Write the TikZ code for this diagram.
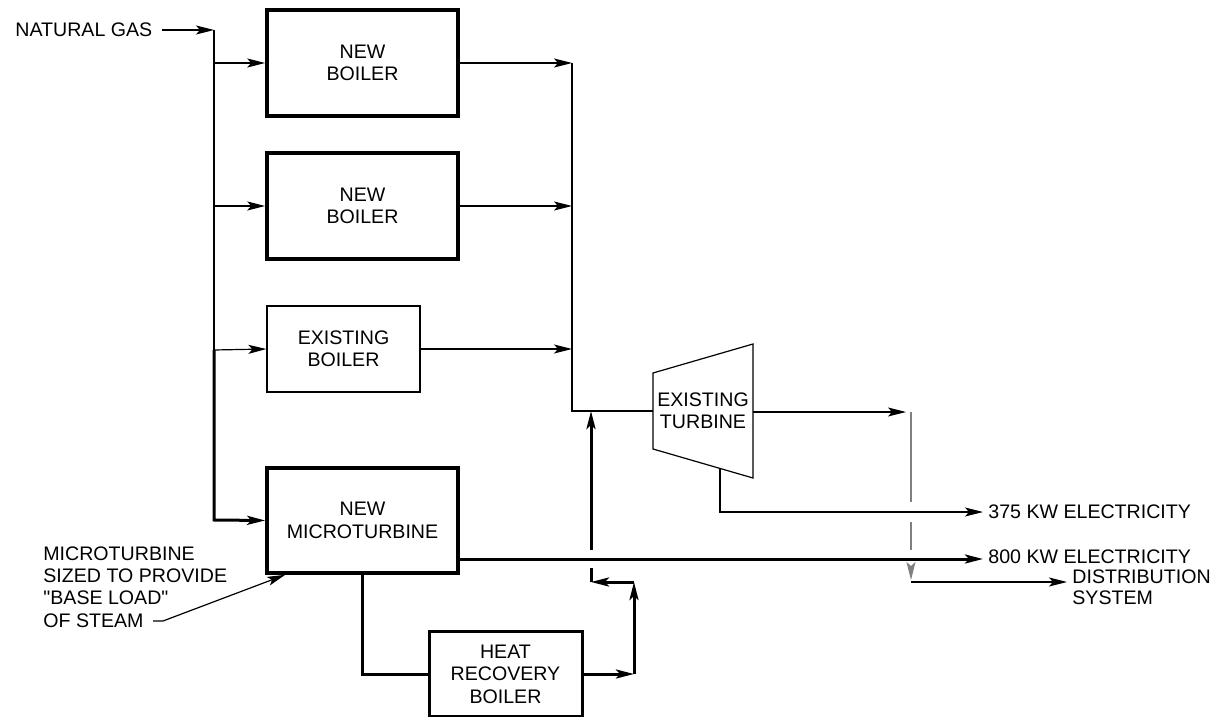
\documentclass[tikz,border=0pt]{standalone}
\usepackage{fontspec}
\setmainfont{Liberation Sans}[Ligatures=TeXOff]
\usepackage{tikz}
\usetikzlibrary{arrows.meta}

\begin{document}
\begin{tikzpicture}[x=0.5pt,y=-0.5pt,
          every node/.style={font=\fontsize{9.8}{11.2}\selectfont},
          newbox/.style={draw,line width=1.8pt,minimum width=95.5pt,minimum height=53pt,align=center},
          oldbox/.style={draw,line width=0.6pt,minimum width=76.5pt,minimum height=43pt,align=center},
          tag/.style={inner sep=0pt,anchor=west,align=left},
          pipe/.style={line width=0.6pt},
          bigpipe/.style={line width=1.5pt},
          gline/.style={line width=0.8pt,black!50},
          tip/.style={-{Stealth[length=9pt,width=4.5pt,inset=2pt]}},
        ]
        \useasboundingbox (0,0) rectangle (1217,717);
        \node[tag] (gas) at (15,30) {NATURAL GAS};
        \node[newbox] (b1) at (362.5,63) {NEW\\BOILER};
        \node[newbox] (b2) at (362.5,206) {NEW\\BOILER};
        \node[oldbox] (eb) at (343.5,349) {EXISTING\\BOILER};
        \node[newbox,minimum height=52.5pt] (mt) at (362.5,520.5) {NEW\\MICROTURBINE};
        \node[newbox,line width=1.5pt,minimum width=76.5pt,minimum height=42.5pt] (hrb) at (505.5,674) {HEAT\\RECOVERY\\BOILER};
        \node (turb) at (703,411) [align=center,inner sep=0pt] {EXISTING\\TURBINE};
        \node[tag] (e375) at (988,512) {375 KW ELECTRICITY};
        \node[tag] (e800) at (988,557) {800 KW ELECTRICITY};
        \node[tag,font=\fontsize{9.8}{10.4}\selectfont] (dist) at (1072,587) {DISTRIBUTION\\SYSTEM};
        \node[tag] (note) at (43,587) {MICROTURBINE\\SIZED TO PROVIDE\\"BASE LOAD"\\OF STEAM};
        \coordinate (gas0) at (214,30);
        \coordinate (gas3) at (214,350);
        \coordinate (gas4) at (214,520);
        \coordinate (hdr) at (572,411);
        \coordinate (tl) at (653,373);
        \coordinate (tr) at (753,344);
        \coordinate (br) at (753,478);
        \coordinate (bl) at (653,449);
        \coordinate (tout) at (753,412);
        \coordinate (d0) at (911,412);
        \coordinate (d1) at (911,582);
        \coordinate (e0) at (720,468.4);
        \coordinate (e1) at (720,512);
        \coordinate (e2) at (458,559);
        \coordinate (r1) at (634,674);
        \coordinate (r2) at (634,582);
        \coordinate (r3) at (591,582);
        \coordinate (r4) at (591,411);
        \coordinate (n0) at (153,621);
        \coordinate (n1) at (163,621);
        \draw[pipe] (tl) -- (tr) -- (br) -- (bl) -- cycle;
        \draw[pipe,tip,shorten <=4.5pt] (gas) -- (gas0);
        \draw[pipe] (gas0) -- (gas3);
        \draw[pipe,tip] (gas0 |- b1.west) -- (b1.west);
        \draw[pipe,tip] (gas0 |- b2.west) -- (b2.west);
        \draw[pipe,tip] (gas3) -- (eb.west);
        \draw[bigpipe,tip] (gas3) -- (gas4) -- (mt.west);
        \draw[pipe,tip] (b1.east) -- (b1.east -| hdr);
        \draw[pipe,tip] (b2.east) -- (b2.east -| hdr);
        \draw[pipe,tip] (eb.east) -- (eb.east -| hdr);
        \draw[pipe] (b1.east -| hdr) -- (hdr) -- (tl |- hdr);
        \draw[pipe,tip,shorten >=2.5pt] (tout) -- (d0);
        \draw[gline] (d0) -- ([yshift=5pt]d0 |- e1);
        \draw[gline] ([yshift=-5pt]d0 |- e1) -- ([yshift=4.5pt]d0 |- e2);
        \draw[gline,tip] ([yshift=-4.5pt]d0 |- e2) -- ([yshift=1pt]d1);
        \draw[pipe,tip,shorten >=2.5pt] (d1) -- (d1 -| dist.west);
        \draw[pipe,tip,shorten >=2.5pt] (e0) -- (e1) -- (e375.west);
        \draw[bigpipe,tip,shorten >=2.5pt] (e2) -- (e2 -| e800.west);
        \draw[bigpipe] (mt.south) -- (mt.south |- hrb.west) -- (hrb.west);
        \draw[bigpipe,tip] (hrb.east) -- (r1);
        \draw[bigpipe,tip] (r1) -- (r2);
        \draw[bigpipe,tip] (r2) -- (r3);
        \draw[bigpipe] (r3) -- ([yshift=-4.5pt]r3 |- e2);
        \draw[bigpipe,tip] ([yshift=4.5pt]r3 |- e2) -- (r4);
        \draw[pipe,tip] (n0) -- (n1) -- ([xshift=10pt]mt.south west);
      \end{tikzpicture}
\end{document}
